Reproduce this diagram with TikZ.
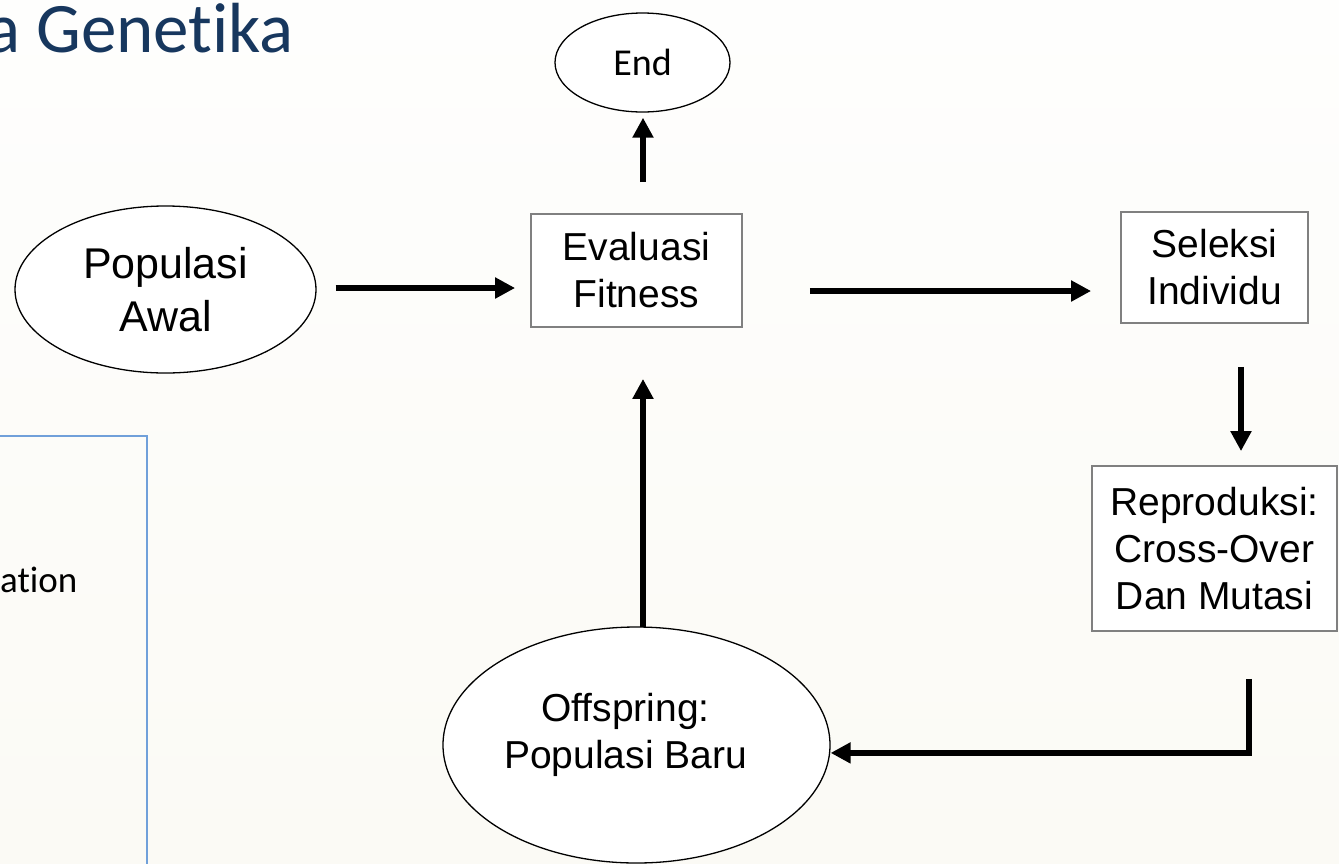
\documentclass[tikz,border=0pt]{standalone}
\usepackage{fontspec}
\setmainfont{Liberation Sans}
\newfontfamily\calib[Ligatures=NoCommon]{Carlito}
\usetikzlibrary{shapes.geometric,arrows.meta,calc}
\definecolor{titleblue}{RGB}{23,55,94}
\definecolor{framegray}{RGB}{128,128,128}
\definecolor{panelblue}{RGB}{112,160,218}
\definecolor{bgtop}{RGB}{254,254,253}
\definecolor{bgbot}{RGB}{251,250,245}
\begin{document}
\begin{tikzpicture}[x=1pt,y=-1pt,
  stepbox/.style={draw=framegray,line width=1.8pt,fill=white,inner sep=0pt,
    align=center,font=\fontsize{39}{47}\selectfont},
  oval/.style={ellipse,draw=black,line width=1.3pt,fill=white,inner sep=0pt,
    align=center},
  flow/.style={line width=6.5pt,-{Triangle[length=20pt,width=20pt]}}]
  % page and background
  \useasboundingbox (0,0) rectangle (1339,863);
  \clip (0,0) rectangle (1339,863);
  \shade[top color=bgtop,bottom color=bgbot] (0,0) rectangle (1339,863);

  % slide title and side panel
  \node[anchor=base east,inner sep=0pt,text=titleblue,
        font=\calib\fontsize{71}{85}\selectfont] (title) at (294,52) {a Genetika};
  \draw[panelblue,line width=1.5pt] (-5,436) -- (147,436) -- (147,870);
  \node[anchor=base west,inner sep=0pt,font=\calib\fontsize{37}{44}\selectfont]
        (sidetext) at (0,592) {ation};

  % flow nodes
  \node[oval,minimum width=301pt,minimum height=167pt,
        font=\fontsize{43}{53}\selectfont] (pop) at (165.5,289.5) {Populasi\\Awal};
  \node[stepbox,minimum width=211pt,minimum height=113pt] (eval) at (636.5,270.5)
        {Evaluasi\\Fitness};
  \node[oval,minimum width=175pt,minimum height=99pt,
        font=\calib\fontsize{38}{45}\selectfont] (end) at (642.5,62.5) {End};
  \node[stepbox,minimum width=187pt,minimum height=111pt] (sel) at (1214.5,267.5)
        {Seleksi\\Individu};
  \node[stepbox,minimum width=245pt,minimum height=165pt] (rep) at (1214.5,548.5)
        {Reproduksi:\\Cross-Over\\Dan Mutasi};
  \node[oval,minimum width=387pt,minimum height=236pt,
        label={[font=\fontsize{39}{47}\selectfont,align=center,xshift=-11pt,yshift=10pt]center:Offspring:\\Populasi Baru}]
        (off) at (636.5,745) {};

  % connectors
  \draw[flow] ($(pop.east)+(19,-1.5)$) -- ($(eval.west)+(-15,17.5)$);
  \draw[flow] ($(eval.north)+(6.5,-31)$) -- ($(end.south)+(0.5,5)$);
  \draw[flow] ($(eval.east)+(67,20.5)$) -- ($(sel.west)+(-29,23.5)$);
  \draw[flow] ($(sel.south)+(26.5,43)$) -- ($(rep.north)+(26.5,-14)$);
  \coordinate (bend) at ($(rep.south)+(34.5,121)$);
  \draw[flow] ($(rep.south)+(34.5,47)$) -- (bend) -- (bend -| off.east);
  \draw[flow] ($(off.north)+(6.5,1)$) -- ($(eval.south)+(6.5,51)$);
\end{tikzpicture}
\end{document}
